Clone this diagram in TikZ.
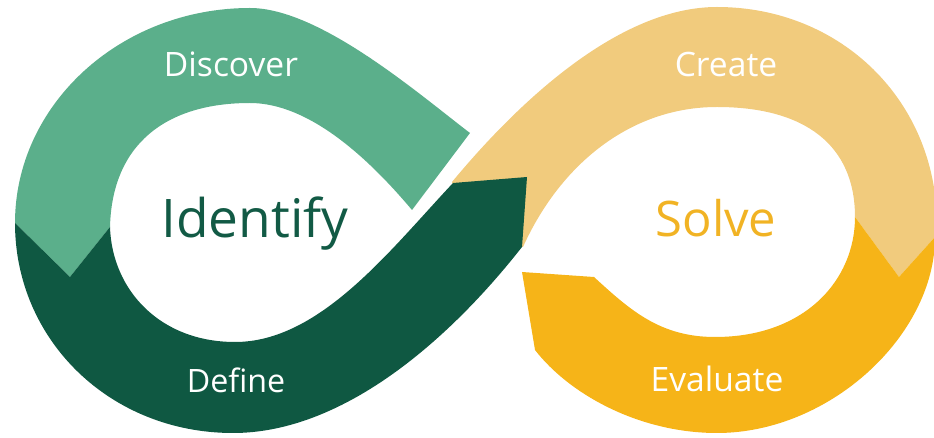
\documentclass[tikz,border=0pt]{standalone}
\usepackage{fontspec}
\setmainfont{Open Sans}
\definecolor{lgreen}{HTML}{5BAF8B}
\definecolor{dgreen}{HTML}{0F5842}
\definecolor{lyellow}{HTML}{F1CB7D}
\definecolor{dyellow}{HTML}{F6B418}
\definecolor{idtext}{HTML}{125A45}
\definecolor{soltext}{HTML}{F1B324}
\tikzset{
  band/.style={line join=round},
  phase/.style={anchor=base, inner sep=0pt, text=white, font=\fontsize{16.8pt}{18pt}\selectfont},
  core/.style={anchor=base, inner sep=0pt}
}
\begin{document}
\begin{tikzpicture}[x=0.5pt,y=-0.5pt]
\useasboundingbox (0,0) rectangle (934,438);
% light green (Discover)
\fill[lgreen,band] (15,223) .. controls (15,105) and (120,8) .. (250,8)
  .. controls (320,8) and (420,95) .. (470,133) -- (412,210)
  .. controls (370,160) and (310,103) .. (250,103)
  .. controls (165,103) and (112,145) .. (110,227) -- (70,277) -- cycle;
% light yellow (Create)
\fill[lyellow,band] (452,182) .. controls (520,100) and (620,7) .. (717,7)
  .. controls (840,7) and (937,100) .. (937,225) -- (935,237) -- (899,277) -- (855,217)
  .. controls (855,145) and (805,107) .. (717,107)
  .. controls (630,107) and (560,165) .. (523,247) -- (470,240) -- cycle;
% dark green (Define)
\fill[dgreen,band] (15,223) -- (70,277) -- (110,227)
  .. controls (112,290) and (160,342) .. (235,342)
  .. controls (320,342) and (390,250) .. (453,183) -- (527,177) -- (522,247)
  .. controls (445,345) and (340,433) .. (233,433)
  .. controls (110,433) and (15,340) .. (15,223) -- cycle;
% dark yellow (Evaluate)
\fill[dyellow,band] (522,272) -- (594,277)
  .. controls (630,310) and (660,337) .. (715,337)
  .. controls (805,337) and (855,280) .. (855,217) -- (899,277) -- (935,237)
  .. controls (935,335) and (830,433) .. (717,433)
  .. controls (640,433) and (570,395) .. (535,350) -- cycle;
% labels
\node[phase] (discover) at (231,77) {Discover};
\node[phase] (create) at (726,77) {Create};
\node[phase, font=\fontsize{16.1pt}{18pt}\selectfont] (define) at (236,393) {Define};
\node[phase] (evaluate) at (717,392) {Evaluate};
\node[core, text=idtext, font=\fontsize{26.6pt}{30pt}\selectfont] (identify) at (255,238) {Identify};
\node[core, text=soltext, font=\fontsize{24.5pt}{28pt}\selectfont] (solve) at (716,237) {Solve};
\end{tikzpicture}
\end{document}
